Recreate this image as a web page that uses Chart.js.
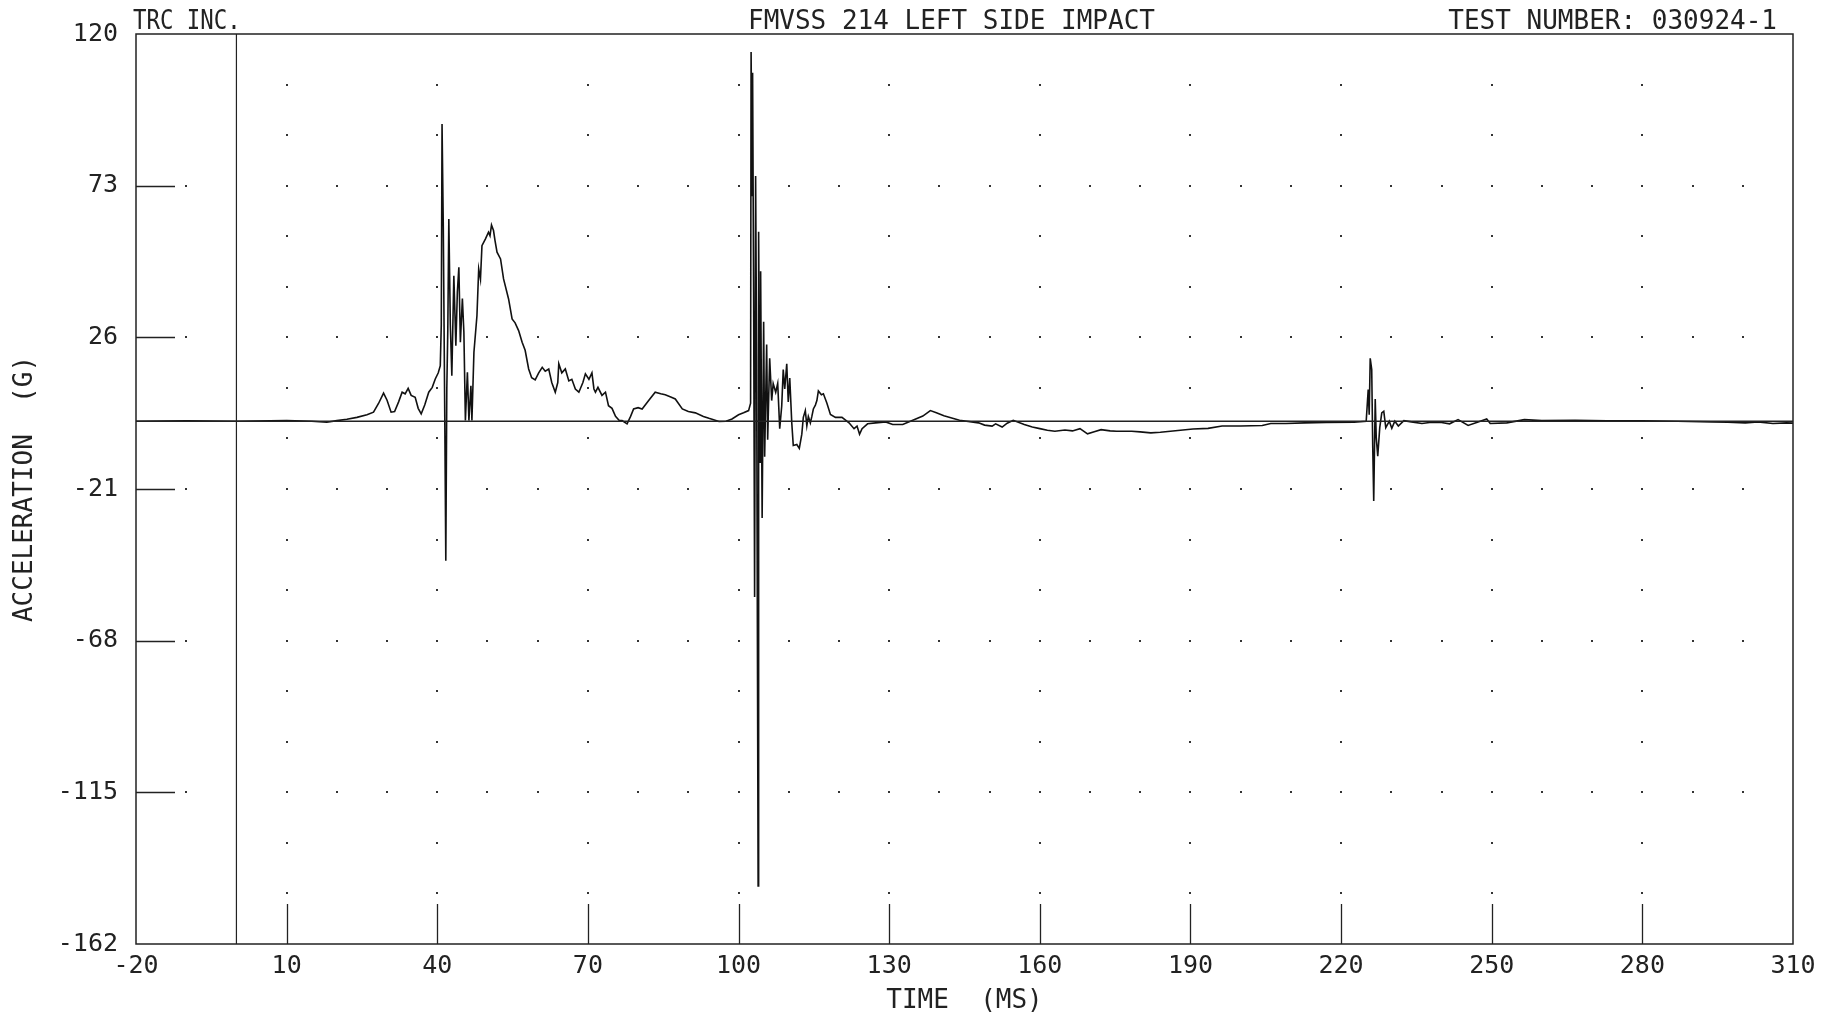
<!DOCTYPE html>
<html>
<head>
<meta charset="utf-8">
<title>FMVSS 214 Left Side Impact</title>
<script src="https://cdn.jsdelivr.net/npm/chart.js@4.4.1/dist/chart.umd.min.js"></script>
<style>
  html, body { margin: 0; padding: 0; background: #fff; }
  #wrap { width: 1839px; height: 1017px; position: relative; }
</style>
</head>
<body>
<div id="wrap"><canvas id="accelChart"></canvas></div>
<script>
// Header texts
const HEADER_LEFT = 'TRC INC.';
const HEADER_CENTER = 'FMVSS 214 LEFT SIDE IMPACT';
const HEADER_RIGHT = 'TEST NUMBER: 030924-1';

// Axes
const X_TICKS = [-20, 10, 40, 70, 100, 130, 160, 190, 220, 250, 280, 310];
const Y_TICKS = [-162, -115, -68, -21, 26, 73, 120];

// Trace: time (ms) and acceleration (G)
const timeMs = [
  -20, -10, 0, 10, 15, 18, 20, 22, 24, 26,
  27.3, 28.3, 29.3, 30.0, 30.8, 31.5, 32.3, 33.0, 33.6, 34.2,
  34.8, 35.6, 36.2, 36.8, 37.5, 38.3, 39.0, 39.6, 40.2, 40.6,
  // first burst + main pulse
  40.8, 40.95, 41.2, 41.5, 41.7, 41.9, 42.1, 42.3, 42.6, 42.9,
  43.3, 43.7, 44.0, 44.3, 44.6, 45.0, 45.3, 45.6, 46.0, 46.3,
  46.7, 46.9, 47.3, 47.9, 48.25, 48.6, 48.9, 49.6, 50.2, 50.5,
  50.8, 51.2, 51.5, 51.9, 52.6, 53.2, 54.2, 54.9, 55.5, 56.2,
  56.9, 57.5, 58.2, 58.8, 59.5, 60.2, 60.9, 61.5, 62.2, 62.8,
  63.5, 64.0, 64.2, 64.8, 65.5, 66.2, 66.8, 67.5, 68.2, 69.0,
  69.5, 70.2, 70.8, 71.2, 71.5, 72.0, 72.8, 73.5, 74.1, 74.8,
  75.5, 76.2, 76.8, 77.8, 78.5, 79.1, 80.0, 80.8, 82.1, 83.4,
  84.5, 85.4, 86.5, 87.4, 88.8, 90.0, 91.4, 93.0, 94.1, 96.1,
  97.5, 98.7, 100.0, 101.0, 102.0, 102.4,
  // second burst
  102.5, 102.7, 102.8, 103.0, 103.2, 103.4, 103.6, 103.9, 104.0, 104.2,
  104.3, 104.4, 104.7, 105.0, 105.2, 105.6, 105.8, 106.2, 106.6, 106.9,
  107.4, 107.8, 108.2, 108.6, 108.9, 109.2, 109.6, 109.9, 110.2, 110.6,
  110.9, 111.6, 112.1, 112.6, 112.9, 113.3, 113.6, 113.9, 114.3, 114.6,
  114.9, 115.3, 115.6, 115.9, 116.5, 116.9, 117.6, 118.3, 119.3, 120.6,
  122.0, 123.0, 123.6, 124.1, 124.6, 125.7, 127.3, 129.3, 130.7, 132.7,
  134.7, 136.7, 138.2, 139.4, 140.9, 144.0, 147.8, 149.0, 150.5, 151.2,
  // slow negative drift
  152.5, 153.5, 154.7, 156.9, 158.5, 160.0, 161.5, 163.0, 165.0, 166.5,
  168.0, 169.5, 171.0, 172.2, 174.0, 175.3, 178.3, 180.0, 182.1, 184.0,
  186.0, 188.0, 190.5, 193.5, 196.3, 200.0, 204.3, 206.0, 209.0, 212.7,
  217.0, 222.6, 225.0,
  // third burst + tail
  225.4, 225.6, 225.8, 226.1, 226.3, 226.5, 226.8, 227.0, 227.3, 227.7,
  228.1, 228.5, 228.9, 229.6, 230.1, 230.7, 231.4, 232.5, 234.0, 236.1,
  238.0, 240.0, 241.6, 243.3, 245.3, 247.0, 249.0, 249.7, 253.0, 256.5,
  260.0, 266.6, 273.0, 280.0, 287.0, 293.8, 297.0, 300.5, 303.0, 306.0,
  308.7, 310.0
];

const accelG = [
  0, 0.1, 0, 0.2, 0, -0.3, 0.2, 0.6, 1.2, 2.0,
  2.8, 5.5, 8.7, 6.5, 2.8, 3.0, 6.0, 9.0, 8.5, 10.2,
  8.0, 7.4, 4.0, 2.3, 5.0, 9.0, 10.5, 13.1, 15.0, 17.2,
  // first burst + main pulse
  30, 92.1, 60, 0, -43.2, 10, 28.6, 62.7, 30, 14.1,
  45.1, 23.4, 40, 47.7, 24.5, 38, 27.6, 0.2, 15.2, 0.2,
  11.0, 0.2, 21.4, 32.7, 47.2, 44, 54.4, 56.5, 58.6, 57.5,
  60.8, 59.1, 56.0, 52.4, 50.3, 44.1, 37.9, 31.7, 30.5, 28.1,
  24.5, 22.0, 16.2, 13.5, 12.8, 15.0, 16.7, 15.5, 16.2, 12.0,
  9.0, 12.0, 17.8, 15.0, 16.2, 12.5, 13.0, 10.0, 9.0, 12.0,
  14.7, 13.0, 15.0, 10.0, 9.0, 10.5, 8.0, 9.0, 4.8, 4.0,
  1.5, 0.3, 0.2, -0.8, 1.5, 3.8, 4.2, 3.8, 6.4, 9.0,
  8.5, 8.2, 7.5, 6.9, 3.8, 3.0, 2.6, 1.5, 0.9, -0.1,
  0.0, 0.7, 2.0, 2.6, 3.3, 5.6,
  // second burst
  114.4, 70, 108, 40, -54.5, 76, 20, -144, 58.7, 0,
  -12.7, 46.5, -30, 30.8, -11, 23.8, -5.7, 19.5, 6.4, 11.7,
  9.0, 11.7, -2.3, 4.7, 16.0, 10.0, 17.8, 6.0, 13.4, -0.5,
  -7.5, -7.2, -8.4, -4.0, 1.2, 3.3, -1.4, 1.5, -0.5, 1.5,
  3.8, 5.0, 6.4, 9.4, 8.2, 8.5, 5.6, 2.1, 1.2, 1.2,
  -0.5, -2.3, -1.5, -4.0, -2.3, -0.8, -0.5, -0.2, -1.0, -1.0,
  0.3, 1.6, 3.3, 2.6, 1.7, 0.3, -0.5, -1.2, -1.5, -0.8,
  // slow negative drift
  -1.8, -0.6, 0.3, -1.0, -1.8, -2.3, -2.8, -3.1, -2.7, -3.0,
  -2.3, -3.9, -3.2, -2.6, -3.0, -3.1, -3.1, -3.3, -3.6, -3.4,
  -3.1, -2.8, -2.4, -2.2, -1.5, -1.5, -1.3, -0.7, -0.7, -0.5,
  -0.4, -0.3, 0,
  // third burst + tail
  9.8, 2, 19.5, 16, -7.7, -24.7, 6.9, -5, -10.8, -2,
  2.6, 3.1, -2, 0, -2.2, 0, -1.5, 0.2, -0.2, -0.7,
  -0.3, -0.4, -0.8, 0.5, -1.3, -0.4, 0.7, -0.7, -0.5, 0.5,
  0.2, 0.3, 0.1, 0.1, 0, -0.2, -0.3, -0.5, -0.2, -0.7,
  -0.5, -0.6
];

const FONT = '"DejaVu Sans Mono", "Liberation Mono", monospace';
const INK = '#222';

// Plotter style frame: dot grid, inward ticks, box, header
const plotterPlugin = {
  id: 'plotter',
  beforeDatasetsDraw(chart) {
    const { ctx, chartArea: a, scales: { x, y } } = chart;
    ctx.save();
    ctx.fillStyle = '#333';
    const dot = (t, g) => ctx.fillRect(Math.round(x.getPixelForValue(t)) - 1, Math.round(y.getPixelForValue(g)) - 1, 2, 2);
    const innerY = Y_TICKS.slice(1, -1);
    const innerX = X_TICKS.slice(1, -1);
    // major rows: a dot every 10 ms
    innerY.forEach(g => { for (let t = X_TICKS[0] + 10; t < X_TICKS[X_TICKS.length - 1]; t += 10) { if (t !== 0) dot(t, g); } });
    // minor rows: dots at the labelled times only
    for (let i = 0; i < Y_TICKS.length - 1; i++) {
      const step = (Y_TICKS[i + 1] - Y_TICKS[i]) / 3;
      for (let k = 1; k <= 2; k++) innerX.forEach(t => dot(t, Y_TICKS[i] + k * step));
    }
    // inward tick marks
    ctx.strokeStyle = INK;
    ctx.lineWidth = 1.3;
    ctx.beginPath();
    innerY.forEach(g => {
      const py = Math.round(y.getPixelForValue(g)) + 0.5;
      ctx.moveTo(a.left, py); ctx.lineTo(a.left + 39, py);
    });
    innerX.forEach(t => {
      const px = Math.round(x.getPixelForValue(t)) + 0.5;
      ctx.moveTo(px, a.bottom); ctx.lineTo(px, a.bottom - 40);
    });
    ctx.stroke();
    ctx.restore();
  },
  afterDraw(chart) {
    const { ctx, chartArea: a } = chart;
    ctx.save();
    ctx.strokeStyle = INK;
    ctx.lineWidth = 1.5;
    ctx.strokeRect(a.left, a.top, a.right - a.left, a.bottom - a.top);
    ctx.fillStyle = INK;
    ctx.font = '26px ' + FONT;
    ctx.textBaseline = 'alphabetic';
    ctx.textAlign = 'left';
    ctx.fillText(HEADER_CENTER, 748, 29);
    ctx.textAlign = 'right';
    ctx.fillText(HEADER_RIGHT, 1777, 29);
    // the company tag is drawn a little narrower in the original
    ctx.textAlign = 'left';
    ctx.translate(133, 29);
    ctx.scale(0.86, 1);
    ctx.fillText(HEADER_LEFT, 0, 0);
    ctx.restore();
  }
};

const trace = timeMs.map((t, i) => ({ x: t, y: accelG[i] }));
const xMin = X_TICKS[0], xMax = X_TICKS[X_TICKS.length - 1];
const yMin = Y_TICKS[0], yMax = Y_TICKS[Y_TICKS.length - 1];

new Chart(document.getElementById('accelChart'), {
  type: 'line',
  data: {
    datasets: [
      {
        label: 'Zero line',
        data: [{ x: xMin, y: 0 }, { x: xMax, y: 0 }],
        borderColor: INK, borderWidth: 1.3, pointRadius: 0
      },
      {
        label: 'Time zero',
        data: [{ x: 0, y: yMin }, { x: 0, y: yMax }],
        borderColor: INK, borderWidth: 1.2, pointRadius: 0
      },
      {
        label: 'Acceleration',
        data: trace,
        borderColor: '#111',
        borderWidth: 1.6,
        pointRadius: 0,
        tension: 0,
        fill: false
      }
    ]
  },
  options: {
    responsive: true,
    maintainAspectRatio: false,
    animation: false,
    layout: { padding: { top: 34, right: 46, bottom: 0, left: 0 } },
    plugins: {
      legend: { display: false },
      tooltip: { enabled: false }
    },
    scales: {
      x: {
        type: 'linear',
        min: xMin, max: xMax,
        grid: { display: false, drawTicks: false },
        border: { display: false },
        ticks: {
          stepSize: 30, autoSkip: false, maxRotation: 0,
          padding: 7, color: INK,
          font: { family: FONT, size: 25 },
          callback: v => String(v)
        },
        title: {
          display: true, text: 'TIME  (MS)', color: INK,
          font: { family: FONT, size: 26, lineHeight: 1 },
          padding: { top: 0, bottom: 3 }
        },
        afterFit: s => { s.height = 73; }
      },
      y: {
        type: 'linear',
        min: yMin, max: yMax,
        grid: { display: false, drawTicks: false },
        border: { display: false },
        ticks: {
          stepSize: 47, autoSkip: false,
          padding: 18, color: INK,
          font: { family: FONT, size: 25 },
          callback: v => String(v)
        },
        title: {
          display: true, text: 'ACCELERATION  (G)', color: INK,
          font: { family: FONT, size: 26, lineHeight: 1 },
          padding: { top: 12, bottom: 0 }
        },
        afterFit: s => { s.width = 136; }
      }
    }
  },
  plugins: [plotterPlugin]
});
</script>
</body>
</html>
